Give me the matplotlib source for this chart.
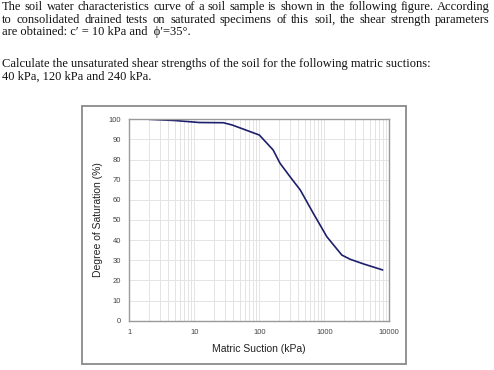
import numpy as np
from matplotlib import pyplot as plt
from matplotlib.patches import Rectangle
from matplotlib.ticker import LogLocator, FixedLocator, NullFormatter

# Soil water characteristic curve
suction_kpa = [2, 5, 12, 28, 38, 100, 163, 208, 297, 427, 678, 1094, 1860, 2500, 4000, 7900]
saturation_pct = [100, 99.4, 98.4, 98.3, 97.2, 92.2, 84.8, 78.2, 71.5, 64.9, 53.3, 41.7, 32.6, 30.5, 28.2, 25.2]

x_ticks = [1, 10, 100, 1000, 10000]
x_tick_labels = ["1", "10", "100", "1000", "10000"]
y_ticks = list(range(0, 101, 10))

paragraph_1 = [
    "The soil water characteristics curve of a soil sample is shown in the following figure. According",
    "to consolidated drained tests on saturated specimens of this soil, the shear strength parameters",
    "are obtained: c\u2032 = 10 kPa and  \u03d5\u2032=35\u00b0.",
]
paragraph_2 = [
    "Calculate the unsaturated shear strengths of the soil for the following matric suctions:",
    "40 kPa, 120 kPa and 240 kPa.",
]

W, H = 494, 370
fig = plt.figure(figsize=(W / 100, H / 100), dpi=100)

serif = "Liberation Serif"
text_size = 9.0


def put_line(text, y_px, justify=False, x0=2, x1=490):
    """Write one line of the question text, optionally stretched to x1."""
    y = 1 - y_px / H
    if not justify:
        fig.text(x0 / W, y, text, family=serif, size=text_size, va="center", ha="left", color="#111111")
        return
    words = text.split(" ")
    renderer = fig.canvas.get_renderer()
    widths = []
    items = []
    for w in words:
        t = fig.text(0, y, w, family=serif, size=text_size, va="center", ha="left", color="#111111")
        widths.append(t.get_window_extent(renderer).width)
        items.append(t)
    gap = (x1 - x0 - sum(widths)) / (len(words) - 1)
    x = x0
    for t, wd in zip(items, widths):
        t.set_x(x / W)
        x += wd + gap


put_line(paragraph_1[0], 7, justify=True)
put_line(paragraph_1[1], 20, justify=True)
put_line(paragraph_1[2], 32)
put_line(paragraph_2[0], 64)
put_line(paragraph_2[1], 77)

# outer chart frame
fig.patches.append(Rectangle((82.3 / W, 1 - 364.3 / H), (406 - 82.3) / W, (364.3 - 106) / H,
                             transform=fig.transFigure, fill=False, edgecolor="#8a8a8a", lw=1.3))

ax = fig.add_axes([129.3 / W, 1 - 320.7 / H, (389.3 - 129.3) / W, (320.7 - 119.3) / H])
ax.set_xscale("log")
ax.set_xlim(1, 10000)
ax.set_ylim(0, 100)

ax.xaxis.set_major_locator(FixedLocator(x_ticks))
ax.xaxis.set_minor_locator(LogLocator(base=10, subs=np.arange(2, 10), numticks=20))
ax.xaxis.set_minor_formatter(NullFormatter())
ax.set_xticks(x_ticks)
ax.set_xticklabels(x_tick_labels)
ax.set_yticks(y_ticks)

ax.grid(which="both", axis="x", color="#e4e4e4", lw=0.7)
ax.grid(which="major", axis="y", color="#e4e4e4", lw=0.7)
ax.set_axisbelow(True)

for s in ax.spines.values():
    s.set_color("#9a9a9a")
    s.set_linewidth(1.0)

ax.tick_params(which="both", length=0, labelsize=5.5, colors="#444444", pad=6)
for lab in ax.get_xticklabels() + ax.get_yticklabels():
    lab.set_family("Liberation Sans")

ax.plot(suction_kpa, saturation_pct, color="#1c1f6b", lw=1.2, solid_capstyle="round")

ax.set_xlabel("Matric Suction (kPa)", family="Liberation Sans", size=7.5, color="#222222", labelpad=6)
ax.set_ylabel("Degree of Saturation (%)", family="Liberation Sans", size=7.5, color="#222222", labelpad=4)

fig.savefig("out.png", dpi=100)
